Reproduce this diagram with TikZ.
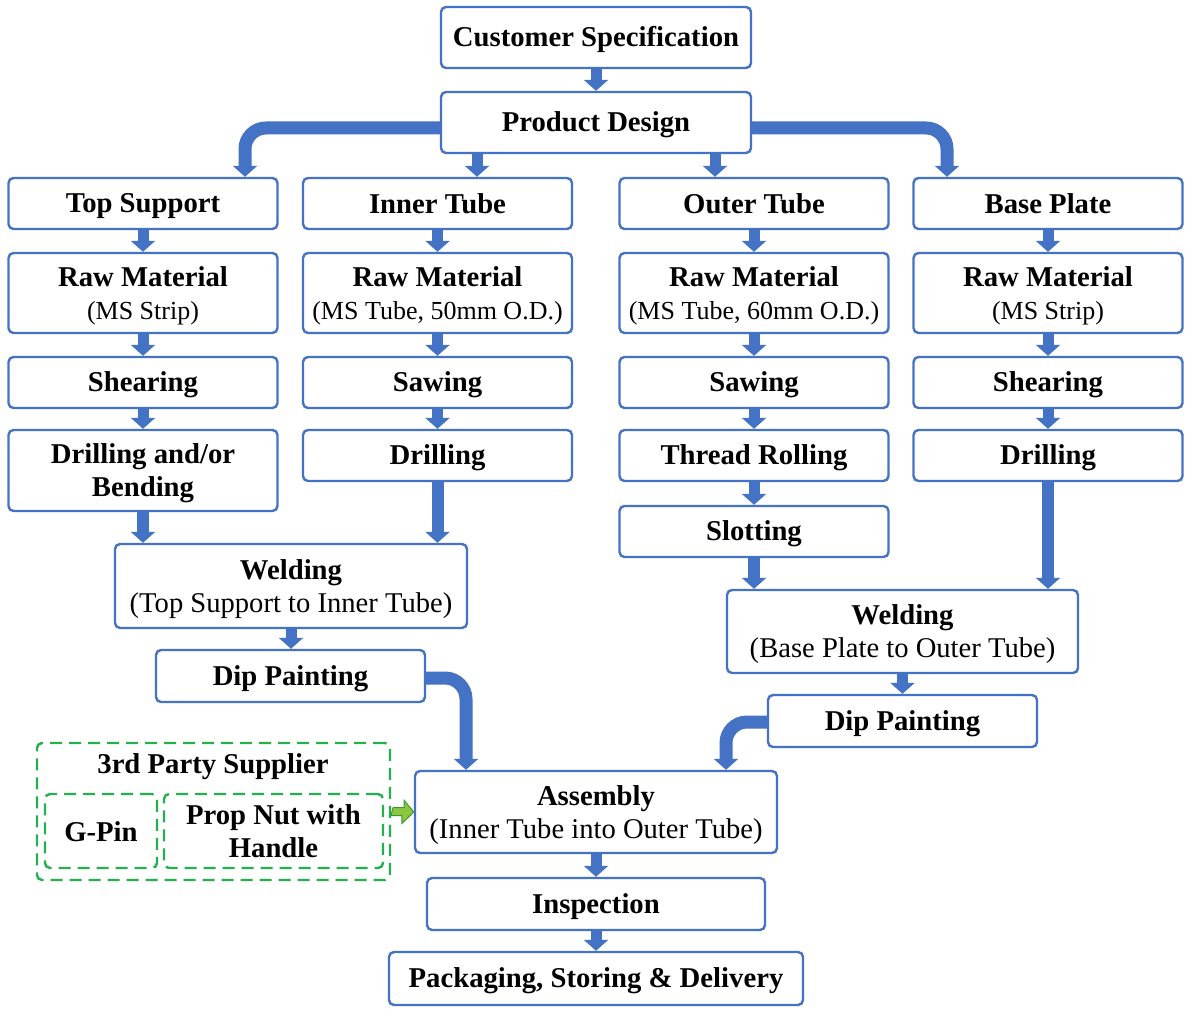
\documentclass[tikz,border=0pt]{standalone}
\usepackage{fontspec}
\setmainfont{Liberation Serif}
\usetikzlibrary{arrows.meta}
\definecolor{boxblue}{RGB}{68,114,196}
\definecolor{arrblue}{RGB}{68,114,196}
\definecolor{dgreen}{RGB}{34,177,76}
\definecolor{lgreen}{RGB}{141,198,63}
\definecolor{ogreen}{RGB}{60,150,50}
\newcommand{\rs}{\rule[-4pt]{0pt}{29pt}}
\newcommand{\subt}[1]{\\\rs{\mdseries\fontsize{26}{33}\selectfont #1}}
\newcommand{\subtb}[1]{\\\rs{\mdseries\fontsize{28.6}{33}\selectfont #1}}
\begin{document}
\begin{tikzpicture}[x=1pt,y=-1pt,
  box/.style={draw=boxblue, line width=2.4pt, rounded corners=5pt, fill=white,
    align=center, inner sep=0pt, font=\bfseries\fontsize{28.7}{33}\selectfont,
    execute at begin node=\rs},
  gbox/.style={draw=dgreen, line width=2.4pt, rounded corners=5pt, dash pattern=on 12pt off 7pt,
    align=center, inner sep=0pt, font=\bfseries\fontsize{28.7}{33}\selectfont,
    execute at begin node=\rs},
  twoline/.style={text depth=0pt},
  flow/.style={draw=arrblue, line width=11pt, -{Triangle[width=24pt,length=11pt]}},
  bendflow/.style={flow, line width=13pt, rounded corners=21pt},
  garrow/.style={fill=lgreen, draw=ogreen, line width=1pt, line join=miter},
]
\useasboundingbox[fill=white] (0,0) rectangle (1192,1032);
% top
\node[box, minimum width=310pt, minimum height=61pt] (cs) at (596,37.5) {Customer Specification};
\node[box, minimum width=310pt, minimum height=61pt] (pd) at (596,122.5) {Product Design};
% row 1
\node[box, minimum width=269pt, minimum height=51pt] (ts) at (143,203.5) {Top Support};
\node[box, minimum width=269pt, minimum height=51pt] (it) at (437.5,203.5) {Inner Tube};
\node[box, minimum width=269pt, minimum height=51pt] (ot) at (754,203.5) {Outer Tube};
\node[box, minimum width=269pt, minimum height=51pt] (bp) at (1048,203.5) {Base Plate};
% row 2
\node[box, twoline, minimum width=269pt, minimum height=80pt] (rm1) at (143,293) {Raw Material\subt{(MS Strip)}};
\node[box, twoline, minimum width=269pt, minimum height=80pt] (rm2) at (437.5,293) {Raw Material\subt{(MS Tube, 50mm O.D.)}};
\node[box, twoline, minimum width=269pt, minimum height=80pt] (rm3) at (754,293) {Raw Material\subt{(MS Tube, 60mm O.D.)}};
\node[box, twoline, minimum width=269pt, minimum height=80pt] (rm4) at (1048,293) {Raw Material\subt{(MS Strip)}};
% row 3
\node[box, minimum width=269pt, minimum height=51pt] (s1) at (143,382.5) {Shearing};
\node[box, minimum width=269pt, minimum height=51pt] (s2) at (437.5,382.5) {Sawing};
\node[box, minimum width=269pt, minimum height=51pt] (s3) at (754,382.5) {Sawing};
\node[box, minimum width=269pt, minimum height=51pt] (s4) at (1048,382.5) {Shearing};
% row 4
\node[box, twoline, minimum width=269pt, minimum height=81pt] (d1) at (143,470.5) {Drilling and/or\\\rs Bending};
\node[box, minimum width=269pt, minimum height=51pt] (d2) at (437.5,455.5) {Drilling};
\node[box, minimum width=269pt, minimum height=51pt] (d3) at (754,455.5) {Thread Rolling};
\node[box, minimum width=269pt, minimum height=51pt] (d4) at (1048,455.5) {Drilling};
\node[box, minimum width=269pt, minimum height=51pt] (sl) at (754,531.5) {Slotting};
% welding, painting
\node[box, twoline, minimum width=352pt, minimum height=84pt] (wl) at (291,586) {Welding\subtb{(Top Support to Inner Tube)}};
\node[box, twoline, minimum width=351pt, minimum height=83pt] (wr) at (902.5,631.5) {Welding\subtb{(Base Plate to Outer Tube)}};
\node[box, minimum width=269pt, minimum height=52pt] (dl) at (290.5,676) {Dip Painting};
\node[box, minimum width=269pt, minimum height=52pt] (dr) at (902.5,721) {Dip Painting};
% bottom
\node[box, twoline, minimum width=362pt, minimum height=82pt] (as) at (596,812) {Assembly\subtb{(Inner Tube into Outer Tube)}};
\node[box, minimum width=338pt, minimum height=52pt] (in) at (596,904) {Inspection};
\node[box, minimum width=414pt, minimum height=53pt] (pk) at (596,978.5) {Packaging, Storing \& Delivery};
% supplier
\node[gbox, minimum width=353pt, minimum height=137pt] (g0) at (213.5,811.5) {};
\node[font=\bfseries\fontsize{28.7}{33}\selectfont, inner sep=0pt, execute at begin node=\rs] (gt) at (213,764) {3rd Party Supplier};
\node[gbox, minimum width=112pt, minimum height=74pt] (gp) at (101,831) {G-Pin};
\node[gbox, twoline, minimum width=219pt, minimum height=74pt] (pn) at (273.5,831) {Prop Nut with\\\rs Handle};
% arrows
\draw[flow] (cs.south) -- (pd.north);
\draw[flow] ([xshift=-119pt]pd.south) -- ([xshift=-119pt]pd.south |- it.north);
\draw[flow] ([xshift=119pt]pd.south) -- ([xshift=119pt]pd.south |- ot.north);
\coordinate (L1) at (245,128);
\coordinate (R1) at (947,128);
\draw[bendflow] (pd.west |- L1) -| (L1 |- ts.north);
\draw[bendflow] (pd.east |- R1) -| (R1 |- bp.north);
\foreach \a/\b in {ts/rm1,it/rm2,ot/rm3,bp/rm4,rm1/s1,rm2/s2,rm3/s3,rm4/s4,s1/d1,s2/d2,s3/d3,s4/d4,d3/sl}
  \draw[flow] (\a.south) -- (\b.north);
\draw[flow, line width=12pt] (d1.south) -- (d1.south |- wl.north);
\draw[flow, line width=12pt] (d2.south) -- (d2.south |- wl.north);
\draw[flow, line width=12pt] (sl.south) -- (sl.south |- wr.north);
\draw[flow, line width=12pt] (d4.south) -- (d4.south |- wr.north);
\draw[flow] (wl.south) -- (wl.south |- dl.north);
\draw[flow] (wr.south) -- (dr.north);
\coordinate (L2) at (466,678);
\coordinate (R2) at (726,722);
\draw[bendflow] (dl.east |- L2) -| (L2 |- as.north);
\draw[bendflow] (dr.west |- R2) -| (R2 |- as.north);
\draw[flow] (as.south) -- (in.north);
\draw[flow] (in.south) -- (pk.north);
\draw[garrow] ([shift={(2,-4)}]g0.east) -- ++(11,0) -- ++(0,-7) -- (as.west)
  -- ++(-12,11.5) -- ++(0,-8) -- ++(-11,0) -- cycle;
\end{tikzpicture}
\end{document}
